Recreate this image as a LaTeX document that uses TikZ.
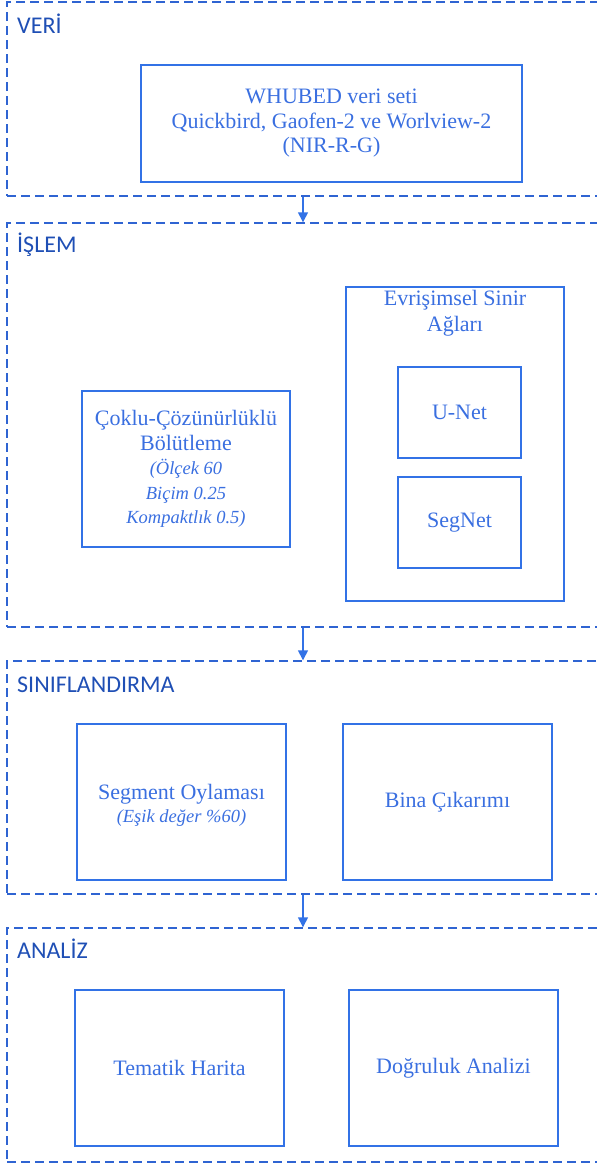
\documentclass[tikz,border=0pt]{standalone}
\usepackage{fontspec}
\setmainfont{Liberation Serif}
\newfontfamily\headfont{Carlito}
\usetikzlibrary{arrows.meta}
\definecolor{boxblue}{HTML}{3272E6}
\definecolor{txtblue}{HTML}{3A6FE0}
\definecolor{headblue}{HTML}{1F4FB5}
\definecolor{frameblue}{HTML}{2F64D2}
\newcommand\smit{\itshape\fontsize{18.5}{24}\selectfont}
\tikzset{
  frame/.style={draw=frameblue, line width=1.4pt, dash pattern=on 9pt off 5pt, rectangle, inner sep=0pt},
  bx/.style={draw=boxblue, line width=1.4pt, rectangle, inner sep=0pt, align=center, text=txtblue, font=\fontsize{22}{24.5}\selectfont},
  head/.style={anchor=west, text=headblue, font=\headfont\fontsize{24}{26}\selectfont, inner sep=0pt},
  arr/.style={draw=boxblue, line width=1.4pt, -{Triangle[length=10pt,width=10pt]}}
}
\begin{document}
\begin{tikzpicture}[x=1pt,y=-1pt]
\useasboundingbox (0,0) rectangle (597,1165);
\clip (0,0) rectangle (597,1165);
% frames
\node[frame, minimum width=598pt, minimum height=194pt] (veri) at (306,99) {};
\node[frame, minimum width=598pt, minimum height=404pt] (islem) at (306,425) {};
\node[frame, minimum width=598pt, minimum height=233pt] (sinif) at (306,777.5) {};
\node[frame, minimum width=598pt, minimum height=234pt] (analiz) at (306,1045) {};
% headings
\node[head] (hveri) at (17,24) {VERİ};
\node[head] (hislem) at (17,245) {İŞLEM};
\node[head] (hsinif) at (17,685) {SINIFLANDIRMA};
\node[head] (hanaliz) at (17,949) {ANALİZ};
% VERI
\node[bx, minimum width=381pt, minimum height=117pt] (whubed) at (331.5,123.5)
  {WHUBED veri seti\\Quickbird, Gaofen-2 ve Worlview-2\\(NIR-R-G)};
% ISLEM
\node[bx, minimum width=208pt, minimum height=156pt] (coklu) at (186,469)
  {Çoklu-Çözünürlüklü\\Bölütleme\\\smit (Ölçek 60\\\smit Biçim 0.25\\\smit Kompaktlık 0.5)};
\node[bx, minimum width=218pt, minimum height=314pt] (cnn) at (455,444) {};
\node[bx, draw=none, font=\fontsize{22}{26}\selectfont] (cnnlbl) at (455,313) {Evrişimsel Sinir\\Ağları};
\node[bx, minimum width=123pt, minimum height=91pt] (unet) at (459.5,412.5) {U-Net};
\node[bx, minimum width=123pt, minimum height=91pt] (segnet) at (459.5,522.5) {SegNet};
% SINIFLANDIRMA
\node[bx, minimum width=209pt, minimum height=156pt] (oylama) at (181.5,802) {};
\node[bx, draw=none, font=\fontsize{22}{23}\selectfont] (oylamatxt) at (181.5,805)
  {Segment Oylaması\\\smit (Eşik değer \%60)};
\node[bx, minimum width=209pt, minimum height=156pt] (bina) at (447.5,802) {Bina Çıkarımı};
% ANALIZ
\node[bx, minimum width=209pt, minimum height=156pt] (tematik) at (179.5,1068) {Tematik Harita};
\node[bx, minimum width=209pt, minimum height=156pt] (dogruluk) at (453.5,1068) {Doğruluk Analizi};
% arrows
\coordinate (ax) at (303,0);
\draw[arr] (veri.south -| ax) -- (islem.north -| ax);
\draw[arr] (islem.south -| ax) -- (sinif.north -| ax);
\draw[arr] (sinif.south -| ax) -- (analiz.north -| ax);
\end{tikzpicture}
\end{document}
